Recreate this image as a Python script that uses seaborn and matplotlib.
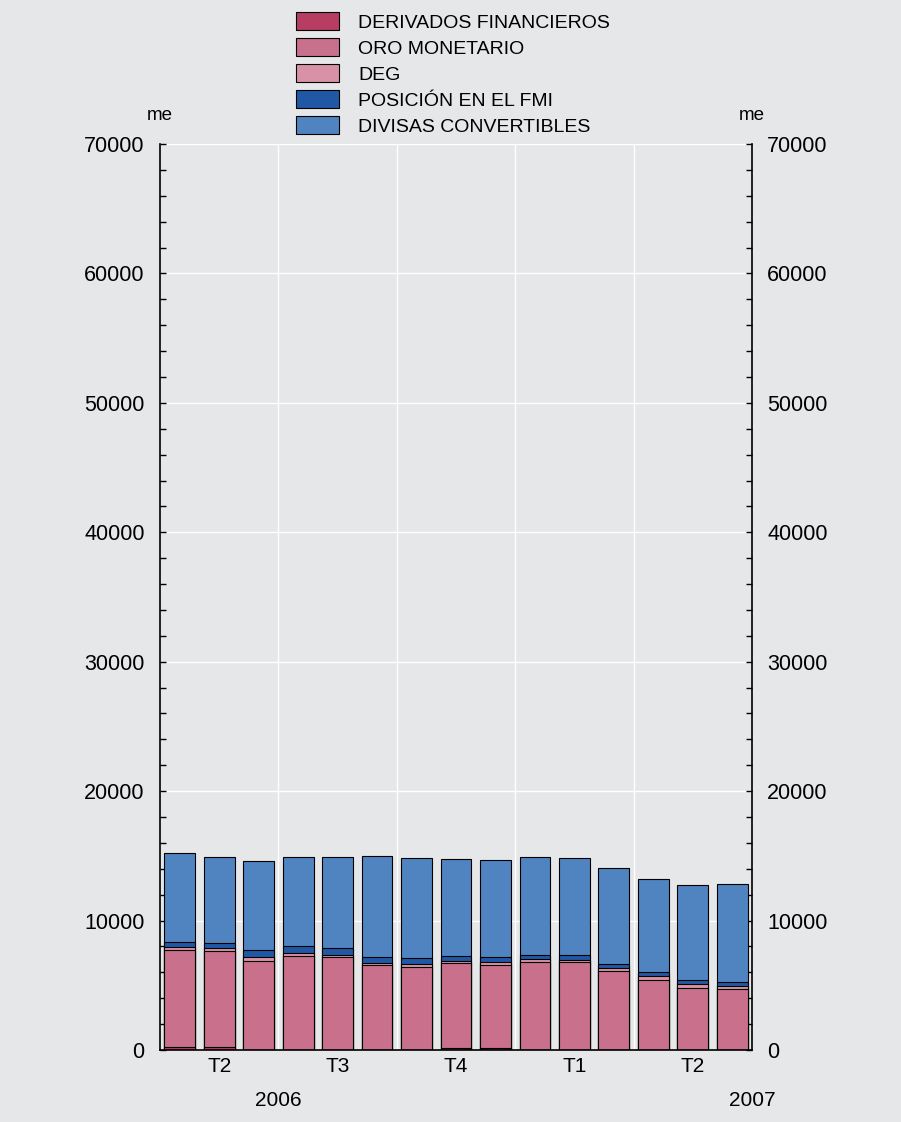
import numpy as np
import pandas as pd
import matplotlib.pyplot as plt
import matplotlib.transforms as mtransforms
from matplotlib.patches import Patch
from matplotlib.ticker import MultipleLocator, FixedLocator, NullFormatter
import seaborn as sns

# data (millones de euros), abr-2006 .. jun-2007
meses = ['2006-04', '2006-05', '2006-06', '2006-07', '2006-08', '2006-09',
         '2006-10', '2006-11', '2006-12', '2007-01', '2007-02', '2007-03',
         '2007-04', '2007-05', '2007-06']
derivados = [200, 200, 30, 30, 30, 20, 20, 120, 120, 30, 30, 30, 30, 30, 30]
oro = [7520, 7450, 6870, 7230, 7130, 6510, 6360, 6570, 6420, 6740, 6770, 6070, 5380, 4790, 4680]
deg = [210, 260, 260, 260, 210, 230, 280, 210, 280, 230, 180, 210, 280, 260, 230]
fmi = [440, 390, 540, 490, 510, 440, 410, 360, 340, 310, 335, 310, 310, 310, 280]
divisas = [6830, 6590, 6900, 6880, 7000, 7780, 7730, 7470, 7490, 7570, 7495, 7420, 7190, 7340, 7620]

series = ['DERIVADOS FINANCIEROS', 'ORO MONETARIO', 'DEG', 'POSICIÓN EN EL FMI', 'DIVISAS CONVERTIBLES']
colores = ['#b73d63', '#c9708c', '#d991a8', '#2158a6', '#5084c0']
trimestres = ['T2', 'T3', 'T4', 'T1', 'T2']
trim_pos = [1, 4, 7, 10, 13]
anios = ['2006', '2007']
anio_pos = [2.5, 14.5]

df = pd.DataFrame({'mes': meses, series[0]: derivados, series[1]: oro,
                   series[2]: deg, series[3]: fmi, series[4]: divisas})
cum = df[series].cumsum(axis=1)

bg = '#e6e7e9'
sns.set_style('white', {'axes.facecolor': bg, 'figure.facecolor': bg,
                        'text.color': 'black', 'xtick.color': 'black',
                        'ytick.color': 'black', 'axes.labelcolor': 'black'})
plt.rcParams['font.family'] = ['Liberation Sans', 'DejaVu Sans']

fig = plt.figure(figsize=(9.01, 11.22), dpi=100)
ax = fig.add_axes([160 / 901, 1 - 1050 / 1122, 592 / 901, 906 / 1122])

# stacked bars: draw cumulative totals from the top layer down
for s, c in zip(series[::-1], colores[::-1]):
    sns.barplot(x=df['mes'], y=cum[s], color=c, saturation=1, width=0.78,
                edgecolor='black', linewidth=0.8, ax=ax, order=meses)

ax.set_xlim(-0.5, 14.5)
ax.set_ylim(0, 70000)
ax.set_xlabel('')
ax.set_ylabel('')

# y axis on both sides
ax.yaxis.set_major_locator(MultipleLocator(10000))
ax.yaxis.set_minor_locator(MultipleLocator(2000))
ax.yaxis.set_ticks_position('both')
ax.tick_params(axis='y', which='both', direction='in', length=4, width=1,
               labelsize=15.5, labelright=True, pad=11, color='black', labelcolor='black')

# x axis: long ticks at quarters, short ticks at months
ax.xaxis.set_major_locator(FixedLocator([2.5, 5.5, 8.5, 11.5]))
ax.xaxis.set_minor_locator(FixedLocator([i + 0.5 for i in range(14)]))
ax.xaxis.set_major_formatter(NullFormatter())
ax.tick_params(axis='x', which='major', direction='in', length=10, width=1, color='black')
ax.tick_params(axis='x', which='minor', direction='in', length=5, width=1, color='black')

ax.grid(True, axis='both', which='major', color='white', linewidth=1)
ax.set_axisbelow(True)

for side in ['left', 'right', 'bottom']:
    ax.spines[side].set_visible(True)
    ax.spines[side].set_color('black')
    ax.spines[side].set_linewidth(1.2)
ax.spines['top'].set_visible(False)

tr = mtransforms.blended_transform_factory(ax.transData, ax.transAxes)
for p, t in zip(trim_pos, trimestres):
    ax.text(p, -16 / 906, t, transform=tr, ha='center', va='center', fontsize=15, color='black')
for p, t in zip(anio_pos, anios):
    ax.text(p, -50 / 906, t, transform=tr, ha='center', va='center', fontsize=15, color='black')

ax.text(0, 1 + 29 / 906, 'me', transform=ax.transAxes, ha='center', va='center', fontsize=13.5)
ax.text(1, 1 + 29 / 906, 'me', transform=ax.transAxes, ha='center', va='center', fontsize=13.5)

handles = [Patch(facecolor=c, edgecolor='black', linewidth=0.8, label=s)
           for s, c in zip(series, colores)]
leg = fig.legend(handles=handles, loc='upper left', bbox_to_anchor=(296 / 901, 1 - 12 / 1122),
                 frameon=False, fontsize=14, handlelength=2.2, handleheight=1.05,
                 handletextpad=1.0, labelspacing=0.33, borderpad=0, borderaxespad=0)
for t in leg.get_texts():
    t.set_color('black')

fig.savefig('out.png', dpi=100, facecolor=bg)
